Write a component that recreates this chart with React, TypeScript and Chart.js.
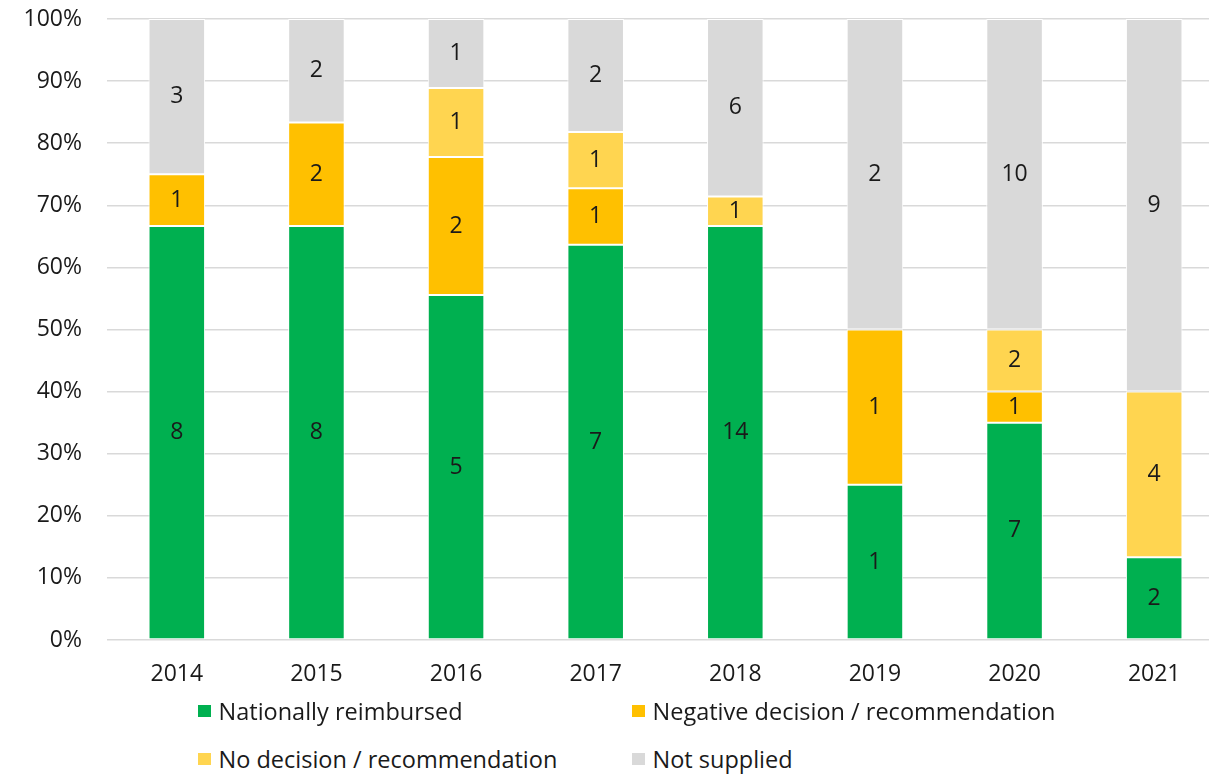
import React, { useEffect, useRef } from "react";
import { Chart, registerables } from "chart.js";

Chart.register(...registerables);

const years = ["2014", "2015", "2016", "2017", "2018", "2019", "2020", "2021"];
const nationallyReimbursed = [8, 8, 5, 7, 14, 1, 7, 2];
const negativeDecision = [1, 2, 2, 1, 0, 1, 1, 0];
const noDecision = [0, 0, 1, 1, 1, 0, 2, 4];
const notSupplied = [3, 2, 1, 2, 6, 2, 10, 9];
const seriesLabels = [
  "Nationally reimbursed",
  "Negative decision / recommendation",
  "No decision / recommendation",
  "Not supplied",
];
const seriesColors = ["#00B050", "#FFC000", "#FFD550", "#D9D9D9"];

const FONT = "'Open Sans', sans-serif";
const TEXT = "#1a1a1a";

const allSeries = [nationallyReimbursed, negativeDecision, noDecision, notSupplied];
const totals = years.map((_, i) => allSeries.reduce((s, arr) => s + arr[i], 0));

const countLabels = {
  id: "countLabels",
  afterDatasetsDraw(chart: any) {
    const ctx = chart.ctx;
    ctx.save();
    ctx.font = `23px ${FONT}`;
    ctx.fillStyle = TEXT;
    ctx.textAlign = "center";
    ctx.textBaseline = "middle";
    chart.data.datasets.forEach((ds: any, di: number) => {
      const meta = chart.getDatasetMeta(di);
      meta.data.forEach((el: any, i: number) => {
        const c = ds.counts[i];
        if (!c) return;
        ctx.fillText(String(c), el.x, (el.y + el.base) / 2);
      });
    });
    ctx.restore();
  },
};

export default function App() {
  const ref = useRef<HTMLCanvasElement>(null);

  useEffect(() => {
    if (!ref.current) return;
    const chart = new Chart(ref.current, {
      type: "bar",
      data: {
        labels: years,
        datasets: allSeries.map((arr, si) => ({
          label: seriesLabels[si],
          data: arr.map((v, i) => (v / totals[i]) * 100),
          counts: arr,
          backgroundColor: seriesColors[si],
          borderColor: "#FFFFFF",
          borderWidth: 1,
          borderSkipped: false,
          categoryPercentage: 1,
          barPercentage: 0.405,
        })) as any,
      },
      options: {
        animation: false,
        responsive: false,
        layout: { padding: { top: 0, right: 0, bottom: 0, left: 0 } },
        plugins: { legend: { display: false }, tooltip: { enabled: false } },
        scales: {
          x: {
            stacked: true,
            grid: { display: false, drawTicks: false },
            border: { display: false },
            ticks: { padding: 21, color: TEXT, font: { family: FONT, size: 23 } },
            afterFit: (s: any) => {
              s.height = 60;
            },
          },
          y: {
            stacked: true,
            min: 0,
            max: 100,
            grid: { color: "#D9D9D9", lineWidth: 1.6, drawTicks: false },
            border: { display: false },
            ticks: {
              stepSize: 10,
              padding: 25,
              color: TEXT,
              font: { family: FONT, size: 23 },
              callback: (v: any) => `${v}%`,
            },
            afterFit: (s: any) => {
              s.width = 107;
              s.paddingTop = 19;
              s.paddingBottom = 0;
            },
          },
        },
      },
      plugins: [countLabels],
    });
    return () => chart.destroy();
  }, []);

  const legendPos = [
    { left: 198, top: 711 },
    { left: 632, top: 711 },
    { left: 198, top: 759 },
    { left: 632, top: 759 },
  ];

  return (
    <div
      style={{
        position: "fixed",
        left: 0,
        top: 0,
        width: "100vw",
        height: "100vh",
        overflow: "hidden",
        background: "#fff",
      }}
    >
      <canvas
        ref={ref}
        width={1224}
        height={700}
        style={{ position: "absolute", left: 0, top: 0, width: 1224, height: 700 }}
      />
      {seriesLabels.map((lab, i) => (
        <div
          key={lab}
          style={{
            position: "absolute",
            left: legendPos[i].left,
            top: legendPos[i].top,
            transform: "translateY(-50%)",
            display: "flex",
            alignItems: "center",
            fontFamily: FONT,
            fontSize: 23.5,
            color: TEXT,
            whiteSpace: "nowrap",
          }}
        >
          <span
            style={{
              display: "inline-block",
              width: 12.5,
              height: 12.5,
              background: seriesColors[i],
              marginRight: 8,
            }}
          />
          <span>{lab}</span>
        </div>
      ))}
    </div>
  );
}
